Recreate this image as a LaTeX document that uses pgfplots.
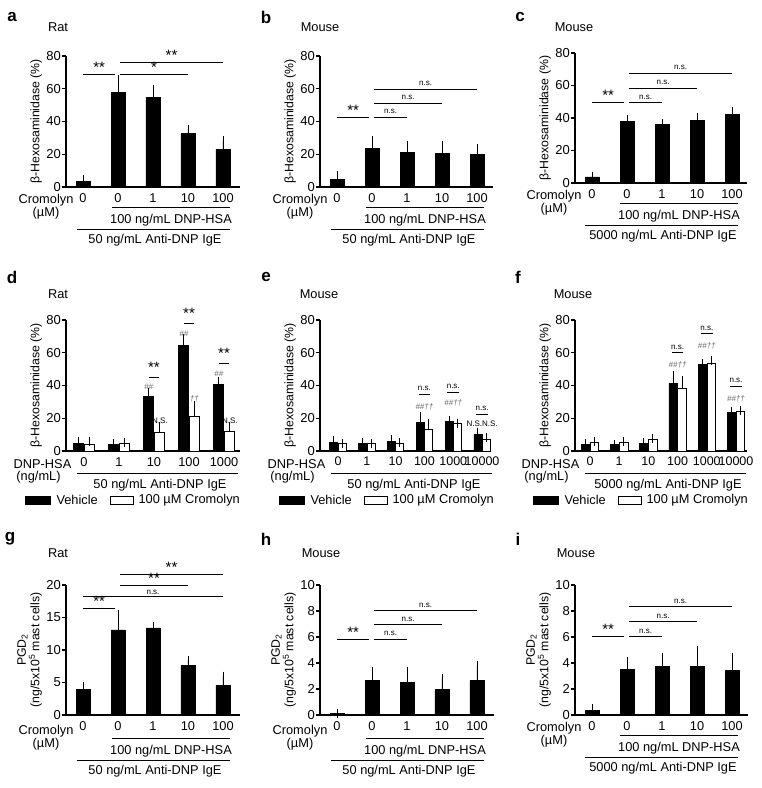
\documentclass[border=0pt]{standalone}
\usepackage{pgfplots}
\pgfplotsset{compat=1.18}
\usepackage{fontspec}
\setmainfont{Liberation Sans}
\newcommand\myfs[2]{\fontsize{#1}{#2}\selectfont}
\definecolor{anngray}{gray}{0.4}
% significance bracket: x1, x2, y, text, yshift
\newcommand\sig[5]{\draw[line width=0.8pt] (axis cs:#1,#3) -- (axis cs:#2,#3) node[midway, anchor=south, yshift=#5, inner sep=0pt]{#4};}
\newcommand\st{\myfs{15}{15}\raisebox{-0.42em}{**}}
\newcommand\sst{\myfs{15}{15}\raisebox{-0.42em}{*}}
\newcommand\ns{\myfs{8}{8}n.s.}
\pgfplotsset{
  panel/.style={
    scale only axis, clip=false,
    axis lines=left, axis line style={-, line width=1.1pt},
    tick align=outside, major tick length=4pt,
    ytick style={line width=1.1pt, black},
    xtick style={draw=none},
    ymin=0, xtick={0,...,4},
    xticklabel style={font=\myfs{12.8}{14}, inner sep=2pt},
    yticklabel style={font=\myfs{13}{14}, inner sep=1pt},
    ylabel style={font=\myfs{12.3}{13.5}, align=center},
    /pgf/number format/assume math mode=true,
    ybar, bar width=14pt,
    error bars/error bar style={line width=0.9pt, black},
    error bars/error mark options={mark size=4.5pt, line width=0.9pt, black},
  },
  blk/.style={fill=black, draw=black, line width=0.6pt},
  wht/.style={fill=white, draw=black, line width=0.8pt},
  hexo/.style={ymax=80, ytick={0,20,...,80}, ylabel={β-Hexosaminidase (\%)}},
  pgd/.style={ylabel={PGD\textsubscript{2}\\(ng/5x10\textsuperscript{5} mast cells)}},
  six/.style={xtick={0,...,5}, xticklabels={0,1,10,100,1000,10000}, xticklabel style={font=\myfs{12.5}{14}}},
}
\newcommand\cromo[3]{%
  \begin{scope}[x=1pt,y=-1pt,shift={(#1,#2)}, font=\myfs{12.8}{14}]
    \node at (46,200) {Cromolyn};
    \node at (46,213) {(µM)};
    \draw[line width=0.9pt] (112,207) -- (230,207);
    \node at (171,220) {100 ng/mL DNP-HSA};
    \draw[line width=0.9pt] (77,229) -- (230,229);
    \node at (155,240) {#3 ng/mL Anti-DNP IgE};
  \end{scope}}
\newcommand\dnp[3]{%
  \begin{scope}[x=1pt,y=-1pt,shift={(#1,#2)}, font=\myfs{12.8}{14}]
    \node at (42.5,464) {DNP-HSA};
    \node at (38.5,477) {(ng/mL)};
    \draw[line width=0.9pt] (77,473) -- (238,473);
    \node at (160,485) {#3 ng/mL Anti-DNP IgE};
    \filldraw[fill=black, draw=black] (25,496) rectangle (50,504);
    \node[anchor=west] at (53,500) {Vehicle};
    \draw[fill=white, line width=0.8pt] (110,496) rectangle (133,504);
    \node[anchor=west] at (135,500) {100 µM Cromolyn};
  \end{scope}}
\begin{document}
\begin{tikzpicture}
\useasboundingbox (0pt,0pt) rectangle (762pt,-788pt);
% ---------- a ----------
\begin{axis}[panel, hexo, at={(66pt,-187pt)}, anchor=south west, width=174pt, height=131pt,
  xmin=-0.486, xmax=4.486, xticklabels={0,0,1,10,100}]
\addplot[blk, error bars/.cd, y dir=plus, y explicit] coordinates {(0,3.6)+-(0,1.2) (1,57.8)+-(0,8.0) (2,54.8)+-(0,4.6) (3,32.5)+-(0,2.8) (4,23.2)+-(0,4.9)};
\sig{0}{0.92}{68.8}{\st}{1.5pt}
\sig{1.06}{3}{68.8}{\sst}{1.5pt}
\sig{1.06}{4}{75.9}{\st}{1.5pt}
\end{axis}
% ---------- b ----------
\begin{axis}[panel, hexo, at={(320pt,-187pt)}, anchor=south west, width=173pt, height=131pt,
  xmin=-0.486, xmax=4.457, xticklabels={0,0,1,10,100}]
\addplot[blk, error bars/.cd, y dir=plus, y explicit] coordinates {(0,4.7)+-(0,2.5) (1,23.6)+-(0,5.1) (2,21.3)+-(0,4.3) (3,20.5)+-(0,4.7) (4,19.7)+-(0,3.9)};
\sig{0}{0.92}{42.6}{\st}{1.5pt}
\sig{1.06}{2}{42.6}{\ns}{3pt}
\sig{1.06}{3}{51.1}{\ns}{3pt}
\sig{1.06}{4}{59.7}{\ns}{3pt}
\end{axis}
% ---------- c ----------
\begin{axis}[panel, hexo, at={(575pt,-183pt)}, anchor=south west, width=172pt, height=130pt,
  xmin=-0.486, xmax=4.428, xticklabels={0,0,1,10,100}]
\addplot[blk, error bars/.cd, y dir=plus, y explicit] coordinates {(0,3.7)+-(0,0.6) (1,37.9)+-(0,0.9) (2,36.1)+-(0,0.6) (3,38.4)+-(0,2.0) (4,42.3)+-(0,1.4)};
\sig{0}{0.92}{49.4}{\st}{1.5pt}
\sig{1.06}{2}{49.4}{\ns}{3pt}
\sig{1.06}{3}{58.3}{\ns}{3pt}
\sig{1.06}{4}{67.5}{\ns}{3pt}
\end{axis}
% ---------- d ----------
\begin{axis}[panel, hexo, at={(66pt,-451pt)}, anchor=south west, width=174pt, height=131pt,
  xmin=-0.514, xmax=4.457, xticklabels={0,1,10,100,1000}, ybar=0.5pt, bar width=10pt]
\addplot[blk, error bars/.cd, y dir=plus, y explicit] coordinates {(0,4.7)+-(0,1.0) (1,4.1)+-(0,0.4) (2,33.2)+-(0,2.6) (3,64.4)+-(0,4.4) (4,40.9)+-(0,1.5)};
\addplot[wht, error bars/.cd, y dir=plus, y explicit] coordinates {(0,4.1)+-(0,2.0) (1,4.7)+-(0,0.4) (2,11.2)+-(0,3.7) (3,21.0)+-(0,6.7) (4,11.8)+-(0,3.1)};
\sig{1.85}{2.15}{45.2}{\st}{4.5pt}
\sig{2.85}{3.15}{77.8}{\st}{4.5pt}
\sig{3.85}{4.15}{53.7}{\st}{4.5pt}
\begin{scope}[font=\myfs{8}{8}\itshape, text=anngray]
\node at (axis cs:1.85,39.1) {\#\#};
\node at (axis cs:2.85,71.6) {\#\#};
\node at (axis cs:3.85,47.2) {\#\#};
\node at (axis cs:3.15,32) {††};
\end{scope}
\node[font=\myfs{8}{8}] at (axis cs:2.17,18.3) {N.S.};
\node[font=\myfs{8}{8}] at (axis cs:4.17,18.3) {N.S.};
\end{axis}
% ---------- e ----------
\begin{axis}[panel, hexo, six, at={(320pt,-451pt)}, anchor=south west, width=171pt, height=131pt,
  xmin=-0.625, xmax=5.31, ybar=0.5pt, bar width=8pt]
\addplot[blk, error bars/.cd, y dir=plus, y explicit] coordinates {(0,5.1)+-(0,1.6) (1,4.5)+-(0,0.4) (2,5.7)+-(0,1.6) (3,17.3)+-(0,3.6) (4,17.9)+-(0,0.6) (5,10.1)+-(0,1.5)};
\addplot[wht, error bars/.cd, y dir=plus, y explicit] coordinates {(0,4.5)+-(0,0.3) (1,4.5)+-(0,0.2) (2,4.7)+-(0,0.8) (3,13.3)+-(0,3.5) (4,16.7)+-(0,0.3) (5,7.2)+-(0,1.2)};
\sig{2.8}{3.2}{34.8}{\ns}{3pt}
\sig{3.8}{4.2}{36.0}{\ns}{3pt}
\sig{4.8}{5.2}{22.6}{\ns}{3pt}
\node[font=\myfs{8}{8}\itshape, text=anngray] at (axis cs:3,26.9) {\#\#††};
\node[font=\myfs{8}{8}\itshape, text=anngray] at (axis cs:4,29.3) {\#\#††};
\node[font=\myfs{8}{8}] at (axis cs:5,16.5) {N.S.N.S.};
\end{axis}
% ---------- f ----------
\begin{axis}[panel, hexo, six, at={(575pt,-451pt)}, anchor=south west, width=172pt, height=131pt,
  xmin=-0.514, xmax=5.377, ybar=0.5pt, bar width=8.5pt]
\addplot[blk, error bars/.cd, y dir=plus, y explicit] coordinates {(0,4.1)+-(0,0.6) (1,3.9)+-(0,0.3) (2,4.7)+-(0,0.6) (3,41.3)+-(0,4.7) (4,53.0)+-(0,0.4) (5,23.4)+-(0,0.6)};
\addplot[wht, error bars/.cd, y dir=plus, y explicit] coordinates {(0,5.5)+-(0,0.4) (1,5.5)+-(0,0.3) (2,7.1)+-(0,0.6) (3,38.3)+-(0,4.7) (4,53.2)+-(0,1.8) (5,24.4)+-(0,0.4)};
\sig{2.8}{3.2}{60.0}{\ns}{3pt}
\sig{3.8}{4.2}{71.7}{\ns}{3pt}
\sig{4.8}{5.2}{39.7}{\ns}{3pt}
\node[font=\myfs{8}{8}\itshape, text=anngray] at (axis cs:3,52.3) {\#\#††};
\node[font=\myfs{8}{8}\itshape, text=anngray] at (axis cs:4,64.5) {\#\#††};
\node[font=\myfs{8}{8}\itshape, text=anngray] at (axis cs:5,31.9) {\#\#††};
\end{axis}
% ---------- g ----------
\begin{axis}[panel, pgd, at={(66pt,-715pt)}, anchor=south west, width=174pt, height=130pt,
  xmin=-0.486, xmax=4.486, ymax=20, ytick={0,5,...,20}, xticklabels={0,0,1,10,100}]
\addplot[blk, error bars/.cd, y dir=plus, y explicit] coordinates {(0,3.9)+-(0,0.55) (1,13.1)+-(0,2.4) (2,13.4)+-(0,0.15) (3,7.65)+-(0,0.75) (4,4.6)+-(0,1.4)};
\sig{0}{0.92}{16.4}{\st}{1.5pt}
\sig{0}{4}{18.2}{\ns}{1.5pt}
\sig{1.06}{3}{20.0}{\st}{1.5pt}
\sig{1.06}{4}{21.7}{\st}{1.5pt}
\end{axis}
% ---------- h ----------
\begin{axis}[panel, pgd, at={(320pt,-715pt)}, anchor=south west, width=174pt, height=130pt,
  xmin=-0.486, xmax=4.486, ymax=10, ytick={0,2,...,10}, xticklabels={0,0,1,10,100}]
\addplot[blk, error bars/.cd, y dir=plus, y explicit] coordinates {(0,0.1)+-(0,0.02) (1,2.64)+-(0,0.72) (2,2.5)+-(0,0.86) (3,1.95)+-(0,0.87) (4,2.64)+-(0,1.16)};
\sig{0}{0.92}{5.85}{\st}{1.5pt}
\sig{1.06}{2}{5.85}{\ns}{3pt}
\sig{1.06}{3}{6.95}{\ns}{3pt}
\sig{1.06}{4}{8.03}{\ns}{3pt}
\end{axis}
% ---------- i ----------
\begin{axis}[panel, pgd, at={(575pt,-715pt)}, anchor=south west, width=173pt, height=130pt,
  xmin=-0.486, xmax=4.457, ymax=10, ytick={0,2,...,10}, xticklabels={0,0,1,10,100}]
\addplot[blk, error bars/.cd, y dir=plus, y explicit] coordinates {(0,0.38)+-(0,0.11) (1,3.49)+-(0,0.64) (2,3.74)+-(0,0.7) (3,3.74)+-(0,1.21) (4,3.46)+-(0,0.98)};
\sig{0}{0.92}{6.03}{\st}{1.5pt}
\sig{1.06}{2}{6.03}{\ns}{3pt}
\sig{1.06}{3}{7.18}{\ns}{3pt}
\sig{1.06}{4}{8.33}{\ns}{3pt}
\end{axis}
% ---------- annotations ----------
\cromo{0}{0}{50}
\cromo{254}{0}{50}
\cromo{508}{-4}{5000}
\cromo{0}{531}{50}
\cromo{254}{531}{50}
\cromo{508}{528}{5000}
\dnp{0}{0}{50}
\dnp{254}{0}{50}
\dnp{508}{0}{5000}
\begin{scope}[x=1pt,y=-1pt]
\begin{scope}[font=\bfseries\myfs{17}{17}]
\node at (12,17) {a}; \node at (266,17) {b}; \node at (520,17) {c};
\node at (12,277) {d}; \node at (266,277) {e}; \node at (518,277) {f};
\node at (10,539) {g}; \node at (266,539) {h}; \node at (518,539) {i};
\end{scope}
\begin{scope}[font=\myfs{12.8}{14}]
\node at (58,27) {Rat}; \node at (320,27) {Mouse}; \node at (574,27) {Mouse};
\node at (58,294) {Rat}; \node at (319,294) {Mouse}; \node at (573,294) {Mouse};
\node at (58,553) {Rat}; \node at (321,553) {Mouse}; \node at (576,553) {Mouse};
\end{scope}
\end{scope}
\end{tikzpicture}
\end{document}
